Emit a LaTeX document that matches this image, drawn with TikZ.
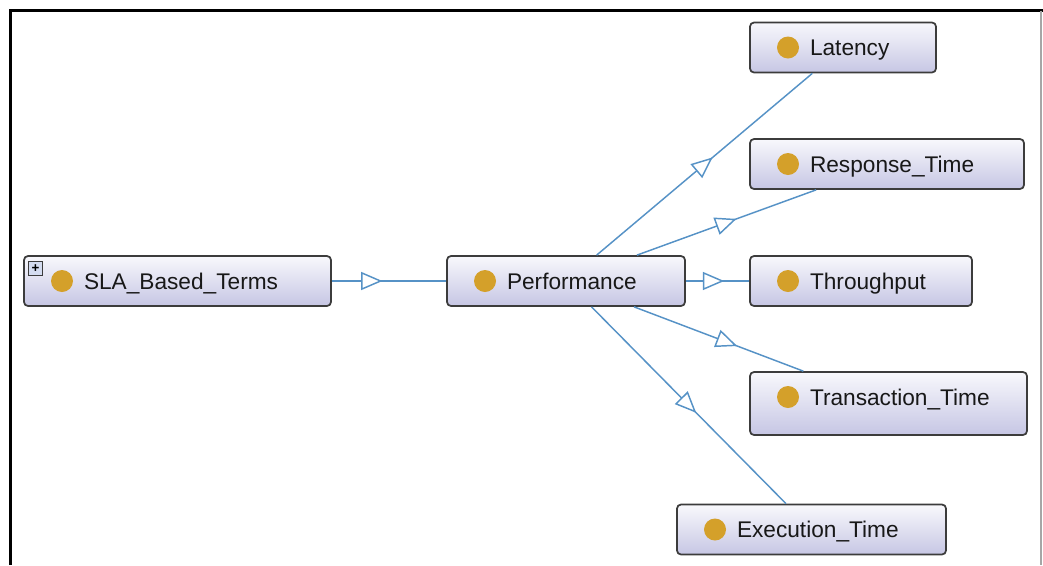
\documentclass[tikz,border=0pt]{standalone}
\usepackage{fontspec}
\setmainfont{Liberation Sans}
\usetikzlibrary{arrows.meta, decorations.markings}
\definecolor{owlblue}{RGB}{86,146,198}
\definecolor{owlgold}{RGB}{212,160,42}
\definecolor{owltop}{RGB}{248,248,252}
\definecolor{owlbottom}{RGB}{198,198,228}
\definecolor{owlframe}{RGB}{60,60,60}
\definecolor{owltext}{RGB}{24,24,24}
\definecolor{owlplus}{RGB}{212,220,240}

\tikzset{
  cls/.style={draw=owlframe, line width=1.3pt, rounded corners=3pt,
    top color=owltop, bottom color=owlbottom, minimum height=37.5pt,
    inner xsep=4pt, inner ysep=3pt, align=left, text height=15pt, text depth=2.8pt,
    text=owltext, font=\fontsize{17}{20}\selectfont,
    execute at begin node={\hspace*{41pt}},
    path picture={\fill[owlgold] ([xshift=28.5pt,yshift=-18.75pt]path picture bounding box.north west) circle (8.25pt);}},
  isa/.style={draw=owlblue, line width=1.1pt},
  isatip/.style={color=owlblue, line width=1.1pt,
    decoration={markings, mark=at position 0.5 with {\arrow[xshift=8pt]{Triangle[open, fill=white, length=16pt, width=13.5pt]}}},
    postaction={decorate}}
}

\begin{document}
\begin{tikzpicture}[x=0.75pt, y=-0.75pt]
        \useasboundingbox (0,0) rectangle (1043,565);
        % frame
        \draw[line width=1.6pt] (10.5,565) -- (10.5,10.5) -- (1043,10.5);
        \draw[gray!70, line width=0.8pt] (1041,10.5) -- (1041,565);

        \node[cls, text width=222.25pt] (sla) at (177.5,281) {SLA\_Based\_Terms};
        \node[cls, text width=170.5pt] (perf) at (566,281) {Performance};
        \node[cls, text width=131.5pt] (lat) at (843,47.5) {Latency};
        \node[cls, text width=197.5pt] (resp) at (887,164) {Response\_Time};
        \node[cls, text width=158.5pt] (thr) at (861,281) {Throughput};
        \node[cls, text width=199.75pt, minimum height=47.25pt, text depth=12.6pt] (trans) at (888.5,403.5) {Transaction\_Time};
        \node[cls, text width=193.75pt] (exe) at (811.5,529.5) {Execution\_Time};
        \node[draw=owlframe, line width=0.7pt, fill=owlplus, minimum size=10.5pt, inner sep=0pt,
              font=\bfseries\fontsize{10}{10}\selectfont] (expand) at (35.5,268.5) {+};

        \draw[isa] (sla) -- (perf);
        \draw[isa] (perf) -- (lat);
        \draw[isa] (perf) -- (resp);
        \draw[isa] (perf) -- (thr);
        \draw[isa] (perf) -- (trans);
        \draw[isa] (perf) -- (exe);
        % hollow triangles half way between the centres
        \path[isatip] (sla.center) -- (perf.center);
        \path[isatip] (perf.center) -- (lat.center);
        \path[isatip] (perf.center) -- (resp.center);
        \path[isatip] (perf.center) -- (thr.center);
        \path[isatip] (perf.center) -- (trans.center);
        \path[isatip] (perf.center) -- (exe.center);
    \end{tikzpicture}
\end{document}
